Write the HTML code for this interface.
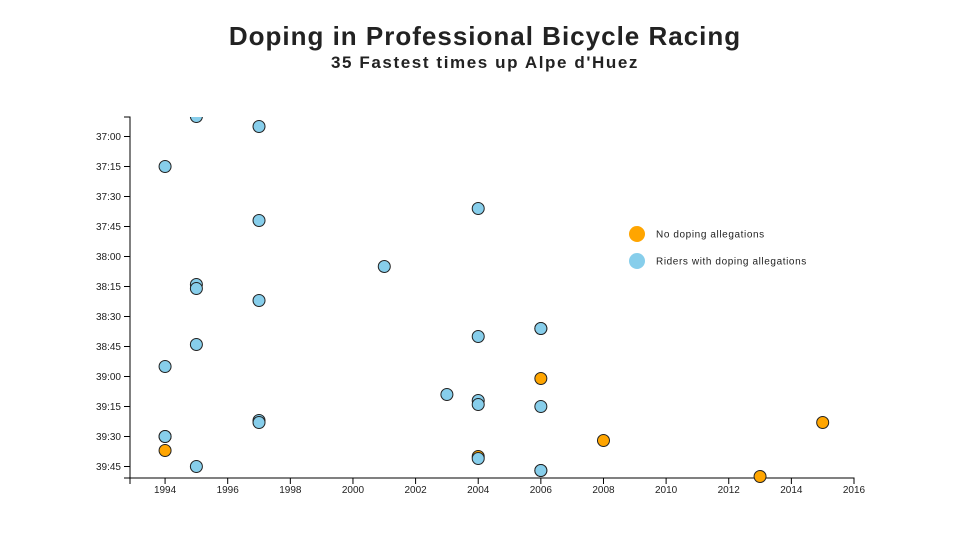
<!DOCTYPE html>
<html><head><meta charset="utf-8"><style>
body{margin:0;background:#fff;font-family:"Liberation Sans",sans-serif}
svg{display:block}
text{fill:#222}
</style></head><body>
<svg id="c" width="955" height="534">
<text x="485" y="45" text-anchor="middle" font-size="26" font-weight="bold" letter-spacing="1">Doping in Professional Bicycle Racing</text>
<text x="485" y="68" text-anchor="middle" font-size="17" font-weight="bold" letter-spacing="1.6">35 Fastest times up Alpe d'Huez</text>
<g id="legend">
<circle cx="637" cy="234" r="8" fill="orange"/>
<text x="656" y="237.5" font-size="10" letter-spacing="0.6">No doping allegations</text>
<circle cx="637" cy="261" r="8" fill="skyblue"/>
<text x="656" y="264.5" font-size="10" letter-spacing="0.6">Riders with doping allegations</text>
</g>
</svg>
<script>
const years=[1995,1997,1994,2004,1997,2001,1995,1995,1997,2006,2006,2004,1995,1994,2006,2003,2004,2004,2006,1997,1997,2015,1994,1994,2008,1994,2004,2004,1995,2006,2006,2013];
const times=["36:50","36:55","37:15","37:36","37:42","38:05","38:14","38:16","38:22","38:36","38:36","38:40","38:44","38:55","39:01","39:09","39:12","39:14","39:15","39:22","39:23","39:23","39:30","39:30","39:32","39:37","39:40","39:41","39:45","39:47","39:47","39:50"];
const doping=[1,1,1,1,1,1,1,1,1,1,1,1,1,1,0,1,1,1,1,1,1,0,1,1,0,0,0,1,1,1,1,0];
const xTicks=[1994,1996,1998,2000,2002,2004,2006,2008,2010,2012,2014,2016];
const yTicks=["37:00","37:15","37:30","37:45","38:00","38:15","38:30","38:45","39:00","39:15","39:30","39:45"];
const NS="http://www.w3.org/2000/svg",svg=document.getElementById('c');
const secs=t=>{const[a,b]=t.split(':');return +a*60+ +b;};
const X0=130,X1=854,Y0=117,Y1=478;
const xMin=1992.88,xMax=2016,yMin=secs("36:50")+0.25,yMax=secs("39:50")+0.75;
const x=v=>X0+(v-xMin)/(xMax-xMin)*(X1-X0);
const y=v=>Y0+(v-yMin)/(yMax-yMin)*(Y1-Y0);
function mk(tag,attrs,txt){const e=document.createElementNS(NS,tag);for(const k in attrs)e.setAttribute(k,attrs[k]);if(txt!==undefined)e.textContent=txt;svg.appendChild(e);return e;}
const defs=mk('defs',{});defs.innerHTML='<clipPath id="cp"><rect x="'+X0+'" y="'+Y0+'" width="'+(X1-X0+10)+'" height="'+(Y1-Y0+10)+'"/></clipPath>';
let ax=mk('path',{d:`M${X0-6},${Y0}H${X0}V${Y1}H${X0-6}`,fill:'none',stroke:'#000'});


let bx=mk('path',{d:`M${X0},${Y1+6}V${Y1}H${X1}V${Y1+6}`,fill:'none',stroke:'#000'});


yTicks.forEach(t=>{const yy=y(secs(t));
 let l=mk('line',{x1:X0-6,x2:X0,y1:yy,y2:yy,stroke:'#000'});
 
 
 let tx=mk('text',{x:X0-9,y:yy+3.5,'text-anchor':'end','font-size':10},t);
 
 });
xTicks.forEach(t=>{const xx=x(t);
 let l=mk('line',{x1:xx,x2:xx,y1:Y1,y2:Y1+6,stroke:'#000'});
 
 
 let tx=mk('text',{x:xx,y:Y1+15,'text-anchor':'middle','font-size':10},t);
 
 });
years.forEach((yr,i)=>{
 let c=mk('circle',{cx:x(yr),cy:y(secs(times[i])),r:6,fill:doping[i]?'skyblue':'orange',stroke:'#222','clip-path':'url(#cp)'});
 
 
});
</script>
</body></html>
